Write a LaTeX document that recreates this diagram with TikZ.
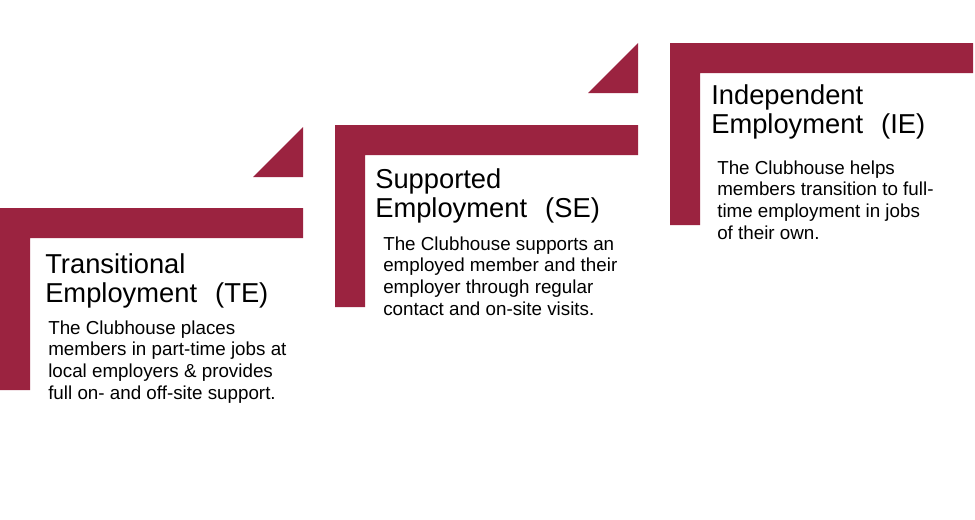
\documentclass[tikz,border=0pt]{standalone}
\usepackage{fontspec}
\setmainfont{Liberation Sans}
\definecolor{barred}{RGB}{155,35,64}
\begin{document}
\begin{tikzpicture}[x=0.75pt,y=-0.75pt,
  bar/.style={fill=barred},
  ttl/.style={anchor=base west,inner sep=0pt,text=black,font=\fontsize{20.5}{22}\selectfont},
  txt/.style={anchor=base west,inner sep=0pt,text=black,font=\fontsize{14.1}{16.3}\selectfont}]
\useasboundingbox[fill=white] (0,0) rectangle (975,519);
% step 1
\path[bar] (0,208) -- (303,208) -- (303,238) -- (30,238) -- (30,390) -- (0,390) -- cycle;
\path[bar] (253,177) -- (303,127) -- (303,177) -- cycle;
% step 2
\path[bar] (335,125) -- (638,125) -- (638,155) -- (365,155) -- (365,307) -- (335,307) -- cycle;
\path[bar] (588,93) -- (638,43) -- (638,93) -- cycle;
% step 3
\path[bar] (670,43) -- (973,43) -- (973,73) -- (700,73) -- (700,225) -- (670,225) -- cycle;
% texts
\node[ttl] (teT) at (45,273) {\begin{tabular}[t]{@{}l@{}}Transitional\\Employment\hspace{0.66em}(TE)\end{tabular}};
\node[txt] (teB) at (48,334) {\begin{tabular}[t]{@{}l@{}}The Clubhouse places\\members in part-time jobs at\\local employers \& provides\\full on- and off-site support.\end{tabular}};
\node[ttl] (seT) at (375,188) {\begin{tabular}[t]{@{}l@{}}Supported\\Employment\hspace{0.66em}(SE)\end{tabular}};
\node[txt] (seB) at (383,250) {\begin{tabular}[t]{@{}l@{}}The Clubhouse supports an\\employed member and their\\employer through regular\\contact and on-site visits.\end{tabular}};
\node[ttl] (ieT) at (711,104) {\begin{tabular}[t]{@{}l@{}}Independent\\Employment\hspace{0.66em}(IE)\end{tabular}};
\node[txt] (ieB) at (717,174) {\begin{tabular}[t]{@{}l@{}}The Clubhouse helps\\members transition to full-\\time employment in jobs\\of their own.\end{tabular}};
\end{tikzpicture}
\end{document}
